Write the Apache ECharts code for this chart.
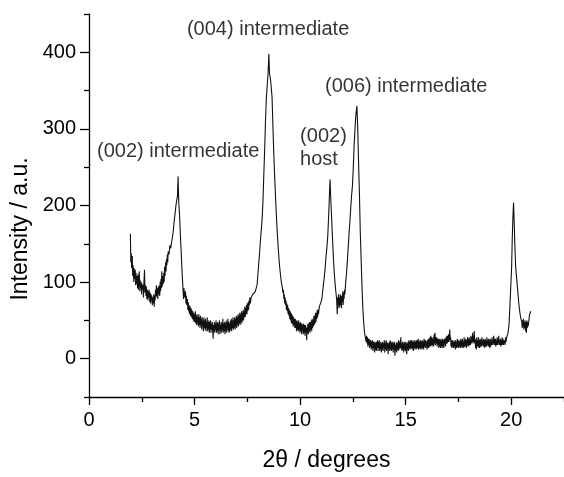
<!DOCTYPE html>
<html>
<head>
<meta charset="utf-8">
<script src="https://cdn.jsdelivr.net/npm/echarts@6/dist/echarts.min.js"></script>
<style>
html,body{margin:0;padding:0;background:#fff;}
#chart{width:564px;height:477px;}
</style>
</head>
<body>
<div id="chart"></div>
<script>
// XRD pattern: [2theta (degrees), intensity (a.u.)]
const xrdPattern = [
[1.96,163],[1.98,126],[2.00,138],[2.02,118],[2.05,134],[2.07,108],[2.09,122],[2.12,100],[2.14,118],[2.16,104],
[2.19,116],[2.21,96],[2.23,112],[2.25,98],[2.27,108],[2.30,92],[2.32,110],[2.34,90],[2.36,104],[2.38,114],
[2.41,88],[2.43,102],[2.45,92],[2.47,100],[2.49,84],[2.51,98],[2.53,90],[2.56,96],[2.58,80],[2.60,98],
[2.63,116],[2.65,86],[2.68,96],[2.70,82],[2.72,94],[2.74,78],[2.77,90],[2.79,76],[2.81,88],[2.83,80],
[2.85,90],[2.88,74],[2.90,86],[2.92,72],[2.94,84],[2.96,76],[2.98,82],[3.00,70],[3.03,80],[3.05,72],
[3.07,84],[3.09,68],[3.11,82],[3.13,76],[3.15,90],[3.17,80],[3.19,96],[3.21,82],[3.23,92],[3.26,78],
[3.28,94],[3.30,84],[3.33,96],[3.35,82],[3.37,100],[3.39,88],[3.41,104],[3.43,92],[3.45,114],[3.47,94],
[3.49,108],[3.52,98],[3.54,112],[3.56,100],[3.58,120],[3.60,108],[3.63,126],[3.65,114],[3.67,130],[3.69,122],
[3.71,136],[3.73,126],[3.75,140],[3.79,136],[3.83,148],[3.87,144],[3.91,152],[3.95,158],[3.99,166],[4.03,178],
[4.07,188],[4.11,198],[4.15,206],[4.19,212],[4.22,238],[4.25,205],[4.29,188],[4.33,160],[4.37,138],[4.41,112],
[4.45,92],[4.48,78],[4.50,92],[4.52,84],[4.55,80],[4.57,88],[4.59,72],[4.61,82],[4.63,70],[4.66,78],
[4.68,64],[4.70,74],[4.72,62],[4.74,70],[4.76,58],[4.79,68],[4.81,56],[4.83,66],[4.85,54],[4.87,64],
[4.90,52],[4.92,62],[4.94,50],[4.96,60],[4.98,48],[5.00,58],
[5.02,48],[5.04,62],[5.06,46],[5.08,56],[5.10,44],[5.12,58],[5.14,46],[5.16,54],[5.18,42],[5.20,58],
[5.22,44],[5.24,54],[5.26,40],[5.28,56],[5.30,44],[5.32,52],[5.34,38],[5.36,54],[5.38,42],[5.40,50],
[5.42,36],[5.44,54],[5.46,40],[5.48,50],[5.50,38],[5.52,52],[5.54,36],[5.56,48],[5.58,40],[5.60,54],
[5.62,36],[5.64,48],[5.66,38],[5.68,50],[5.70,34],[5.72,48],[5.74,38],[5.76,50],[5.78,34],[5.80,46],
[5.82,38],[5.84,48],[5.86,36],[5.88,26],[5.90,44],[5.92,36],[5.94,48],[5.96,34],[5.98,46],[6.00,38],
[6.02,50],[6.04,34],[6.06,46],[6.08,36],[6.10,48],[6.12,32],[6.14,46],[6.16,38],[6.18,50],[6.20,32],
[6.22,44],[6.24,36],[6.26,48],[6.28,34],[6.30,46],[6.32,38],[6.34,52],[6.36,34],[6.38,46],[6.40,36],
[6.42,48],[6.44,32],[6.46,46],[6.48,36],[6.50,50],[6.52,34],[6.54,48],[6.56,38],[6.58,52],[6.60,36],
[6.62,48],[6.64,34],[6.66,46],[6.68,36],[6.70,50],[6.72,38],[6.74,52],[6.76,36],[6.78,50],[6.80,40],
[6.82,54],[6.84,38],[6.86,50],[6.88,40],[6.90,54],[6.92,38],[6.94,52],[6.96,42],[6.98,56],[7.00,40],
[7.02,54],[7.04,44],[7.06,58],[7.08,42],[7.10,56],[7.12,46],[7.14,60],[7.16,44],[7.18,58],[7.20,48],
[7.22,62],[7.24,46],[7.26,60],[7.28,50],[7.30,64],[7.32,50],[7.34,62],[7.36,54],[7.38,68],[7.40,54],
[7.42,66],[7.44,58],[7.46,70],[7.48,58],[7.50,72],[7.52,62],[7.54,74],[7.56,64],[7.58,76],[7.60,70],
[7.62,80],[7.64,72],[7.68,80],[7.72,78],[7.76,84],[7.80,84],
[7.84,86],[7.88,88],[7.92,92],[7.96,96],[8.00,110],[8.04,124],[8.08,138],[8.12,154],[8.16,168],[8.20,182],
[8.24,205],[8.28,240],[8.32,272],[8.36,310],[8.40,340],[8.44,356],[8.48,372],[8.52,398],[8.55,372],[8.59,366],
[8.63,355],[8.67,342],[8.71,305],[8.75,270],[8.79,240],[8.83,215],[8.87,190],[8.91,168],[8.95,150],[8.99,134],
[9.03,120],[9.07,110],[9.11,100],[9.15,94],[9.19,86],[9.21,90],[9.23,78],[9.25,84],[9.27,72],[9.29,80],
[9.31,70],[9.33,76],[9.35,64],[9.37,72],[9.39,62],[9.41,70],[9.43,58],[9.45,66],[9.47,56],[9.49,64],
[9.51,52],[9.53,62],[9.55,50],[9.57,60],[9.59,46],[9.61,58],[9.63,46],[9.65,56],[9.67,42],[9.69,54],
[9.71,44],[9.73,52],[9.75,40],[9.77,52],[9.79,40],[9.81,50],[9.83,36],[9.85,50],[9.87,38],[9.89,48],
[9.91,36],[9.93,50],[9.95,38],[9.97,46],[9.99,34],[10.01,48],[10.03,36],[10.05,46],[10.07,32],[10.09,46],
[10.11,36],[10.13,44],[10.15,32],[10.17,46],[10.19,34],[10.21,44],[10.23,30],[10.25,44],[10.27,34],[10.29,40],
[10.31,24],[10.33,42],[10.35,34],[10.37,46],[10.39,32],[10.41,46],[10.43,36],[10.45,48],[10.47,34],[10.49,48],
[10.51,38],[10.53,50],[10.55,36],[10.57,52],[10.59,40],[10.61,50],[10.63,42],[10.65,56],[10.67,44],[10.69,56],
[10.71,46],[10.73,60],[10.75,48],[10.77,60],[10.79,52],[10.81,64],[10.83,54],[10.85,64],[10.87,58],[10.91,68],
[10.95,68],[10.99,74],
[11.03,78],[11.07,88],[11.11,98],[11.15,108],[11.19,120],[11.23,134],[11.27,146],[11.31,160],[11.35,185],[11.39,215],
[11.42,234],[11.45,210],[11.49,185],[11.53,160],[11.57,135],[11.61,115],[11.65,100],[11.69,88],[11.73,78],[11.76,58],
[11.78,80],[11.80,70],[11.82,84],[11.84,66],[11.86,80],[11.88,68],[11.90,84],[11.92,70],[11.94,82],[11.96,66],
[11.98,82],[12.00,74],[12.02,88],[12.04,70],[12.06,86],[12.08,78],[12.10,90],[12.12,84],[12.16,100],
[12.20,112],[12.24,128],[12.28,146],[12.32,164],[12.36,180],[12.40,198],[12.44,214],[12.48,226],[12.52,250],[12.56,280],
[12.60,300],[12.64,318],[12.69,330],[12.73,300],[12.77,255],[12.81,215],[12.85,165],[12.89,130],[12.93,96],[12.97,66],
[13.01,48],[13.05,34],[13.09,28],[13.13,22],[13.15,30],[13.17,20],[13.19,28],[13.21,16],[13.23,26],[13.25,18],
[13.27,26],[13.29,14],[13.31,24],[13.33,16],[13.35,24],[13.37,12],[13.39,22],[13.41,14],[13.43,24],[13.45,10],
[13.47,22],[13.49,14],[13.51,22],[13.53,8],[13.55,20],[13.57,12],[13.59,22],[13.61,10],[13.63,22],[13.65,14],
[13.67,24],[13.69,10],[13.71,22],[13.73,14],[13.75,24],[13.77,10],[13.79,20],[13.81,12],[13.83,22],[13.85,8],
[13.87,20],[13.89,12],[13.91,22],[13.93,10],[13.95,20],[13.97,14],[13.99,24],[14.01,8],[14.03,20],[14.05,12],
[14.07,24],[14.09,10],[14.11,22],[14.13,12],[14.15,20],[14.17,6],[14.19,20],[14.21,12],[14.23,22],[14.25,10],
[14.27,24],[14.29,12],[14.31,22],[14.33,10],[14.35,20],[14.37,12],[14.39,22],[14.41,8],[14.43,20],[14.45,12],
[14.47,22],[14.49,4],[14.51,18],[14.53,10],[14.55,20],[14.57,8],[14.59,22],[14.61,12],[14.63,20],[14.65,10],
[14.67,24],[14.69,12],[14.71,22],[14.73,14],[14.75,20],[14.77,28],[14.79,12],[14.81,20],[14.83,10],[14.85,22],
[14.87,12],[14.89,20],[14.91,8],[14.93,22],[14.95,12],[14.97,20],[14.99,10],[15.01,22],[15.03,12],[15.05,6],
[15.07,20],[15.09,12],[15.11,22],[15.13,10],[15.15,24],[15.17,12],[15.19,22],[15.21,14],[15.23,24],[15.25,12],
[15.27,24],[15.29,14],[15.31,22],[15.33,12],[15.35,24],[15.37,10],[15.39,22],[15.41,14],[15.43,24],[15.45,12],
[15.47,22],[15.49,14],[15.51,24],[15.53,12],[15.55,24],[15.57,14],[15.59,26],[15.61,12],[15.63,22],[15.65,14],
[15.67,24],[15.69,12],[15.71,24],[15.73,14],[15.75,22],[15.77,12],[15.79,24],[15.81,14],[15.83,22],[15.85,12],
[15.87,26],[15.89,16],[15.91,24],[15.93,14],[15.95,24],[15.97,16],[15.99,22],[16.01,12],[16.03,24],[16.05,14],
[16.07,26],[16.09,14],[16.11,26],[16.13,16],[16.15,28],[16.17,16],[16.19,30],[16.21,18],[16.23,28],[16.25,16],
[16.27,26],[16.29,18],[16.31,28],[16.33,16],[16.35,32],[16.37,20],[16.39,34],[16.41,18],[16.43,28],[16.45,20],
[16.47,28],[16.49,16],[16.51,26],[16.53,18],[16.55,26],[16.57,14],[16.59,26],[16.61,16],[16.63,24],[16.65,14],
[16.67,26],[16.69,16],[16.71,24],[16.73,14],[16.75,26],[16.77,16],[16.79,24],[16.81,14],[16.83,26],[16.85,18],
[16.87,26],[16.89,16],[16.91,28],[16.93,20],[16.95,30],[16.97,20],[16.99,30],[17.01,22],[17.03,32],[17.05,22],
[17.07,30],[17.09,38],[17.11,24],[17.13,28],[17.15,16],[17.17,24],[17.19,14],[17.21,24],[17.23,16],[17.25,22],
[17.27,14],[17.29,24],[17.31,16],[17.33,22],[17.35,12],[17.37,24],[17.39,14],[17.41,22],[17.43,14],[17.45,26],
[17.47,16],[17.49,24],[17.51,14],[17.53,24],[17.55,16],[17.57,22],[17.59,14],[17.61,26],[17.63,16],[17.65,24],
[17.67,14],[17.69,26],[17.71,16],[17.73,22],[17.75,14],[17.77,28],[17.79,16],[17.81,24],[17.83,16],[17.85,26],
[17.87,14],[17.89,24],[17.91,16],[17.93,28],[17.95,18],[17.97,26],[17.99,16],[18.01,28],[18.03,18],[18.05,24],
[18.07,18],[18.09,30],[18.11,20],[18.13,28],[18.15,22],[18.17,34],[18.19,20],[18.21,30],[18.23,22],[18.25,36],
[18.27,20],[18.29,26],[18.31,14],[18.33,24],[18.35,12],[18.37,28],[18.39,16],[18.41,24],[18.43,16],[18.45,28],
[18.47,14],[18.49,24],[18.51,14],[18.53,26],[18.55,16],[18.57,24],[18.59,16],[18.61,28],[18.63,18],[18.65,24],
[18.67,16],[18.69,26],[18.71,16],[18.73,24],[18.75,14],[18.77,26],[18.79,16],[18.81,24],[18.83,16],[18.85,28],
[18.87,18],[18.89,24],[18.91,16],[18.93,26],[18.95,16],[18.97,24],[18.99,14],[19.01,26],[19.03,16],[19.05,24],
[19.07,18],[19.09,28],[19.11,18],[19.13,24],[19.15,20],[19.17,30],[19.19,18],[19.21,26],[19.23,18],[19.25,26],
[19.27,16],[19.29,24],[19.31,18],[19.33,28],[19.35,18],[19.37,26],[19.39,20],[19.41,30],[19.43,18],[19.45,24],
[19.47,18],[19.49,26],[19.51,16],[19.53,24],[19.55,18],[19.57,28],[19.59,18],[19.61,26],[19.63,18],[19.65,24],
[19.67,20],[19.69,24],[19.71,18],[19.73,28],[19.75,22],[19.77,26],[19.79,24],[19.81,30],[19.85,34],[19.90,46],
[19.94,70],[19.98,95],[20.02,120],[20.05,158],[20.08,185],[20.11,204],[20.14,180],[20.17,150],[20.21,120],[20.26,104],
[20.31,88],[20.36,72],[20.41,60],[20.46,52],[20.50,48],[20.52,40],[20.54,50],[20.56,42],[20.58,52],[20.60,38],
[20.62,48],[20.64,40],[20.66,50],[20.68,36],[20.70,48],[20.72,34],[20.74,50],[20.76,40],[20.78,48],[20.80,42],
[20.82,46],[20.87,58],[20.93,62]
];

const xMajorTicks = [0, 5, 10, 15, 20];
const xMinorTicks = [2.5, 7.5, 12.5, 17.5, 22.5];
const yMajorTicks = [0, 100, 200, 300, 400];
const yMinorTicks = [-50, 50, 150, 250, 350, 450];

const annotationTexts = ['(004) intermediate', '(002) intermediate', '(002)\nhost', '(006) intermediate'];
const annotationX = [4.64, 0.38, 10.0, 11.18];
const annotationY = [430, 271, 275, 356];

const FONT = 'Liberation Sans, Arial, sans-serif';
const chart = echarts.init(document.getElementById('chart'), null, {renderer: 'canvas'});

const baseX = {
  type: 'value', min: 0, max: 22.5, position: 'bottom', gridIndex: 0,
  splitLine: {show: false}
};
const baseY = {
  type: 'value', min: -50, max: 450, position: 'left', gridIndex: 0,
  splitLine: {show: false}
};

chart.setOption({
  animation: false,
  backgroundColor: '#fff',
  grid: {left: 89, right: 0, top: 14, bottom: 74, containLabel: false},
  xAxis: [
    Object.assign({}, baseX, {
      name: '2θ / degrees',
      nameLocation: 'middle',
      nameGap: 52,
      nameTextStyle: {fontFamily: FONT, fontSize: 23, color: '#000'},
      axisLine: {show: true, onZero: false, lineStyle: {color: '#000', width: 1.3}},
      axisTick: {show: true, inside: false, length: 8, customValues: xMajorTicks, lineStyle: {color: '#000', width: 1.3}},
      axisLabel: {show: true, customValues: xMajorTicks, margin: 13, fontFamily: FONT, fontSize: 20, color: '#000'}
    }),
    Object.assign({}, baseX, {
      axisLine: {show: false, onZero: false},
      axisTick: {show: true, inside: false, length: 5, customValues: xMinorTicks, lineStyle: {color: '#000', width: 1.3}},
      axisLabel: {show: false}
    })
  ],
  yAxis: [
    Object.assign({}, baseY, {
      name: 'Intensity / a.u.',
      nameLocation: 'middle',
      nameGap: 55,
      nameTextStyle: {fontFamily: FONT, fontSize: 23, color: '#000', padding: [0, 47, 0, 0]},
      axisLine: {show: true, onZero: false, lineStyle: {color: '#000', width: 1.3}},
      axisTick: {show: true, inside: false, length: 9, customValues: yMajorTicks, lineStyle: {color: '#000', width: 1.3}},
      axisLabel: {show: true, customValues: yMajorTicks, margin: 13, fontFamily: FONT, fontSize: 20, color: '#000'}
    }),
    Object.assign({}, baseY, {
      axisLine: {show: false, onZero: false},
      axisTick: {show: true, inside: false, length: 5, customValues: yMinorTicks, lineStyle: {color: '#000', width: 1.3}},
      axisLabel: {show: false}
    })
  ],
  series: [
    {
      type: 'line',
      name: 'XRD',
      xAxisIndex: 0, yAxisIndex: 0,
      data: xrdPattern,
      showSymbol: false,
      symbol: 'none',
      lineStyle: {color: '#111', width: 1.1},
      clip: true
    },
    {
      type: 'scatter',
      name: 'annotations',
      xAxisIndex: 0, yAxisIndex: 0,
      symbolSize: 0,
      silent: true,
      data: annotationTexts.map((t, i) => ({name: t, value: [annotationX[i], annotationY[i]]})),
      label: {
        show: true,
        position: [0, 0],
        align: 'left',
        verticalAlign: 'middle',
        formatter: p => p.name,
        fontFamily: FONT,
        fontSize: 20,
        lineHeight: 23.5,
        color: '#000'
      }
    }
  ]
});
</script>
</body>
</html>
